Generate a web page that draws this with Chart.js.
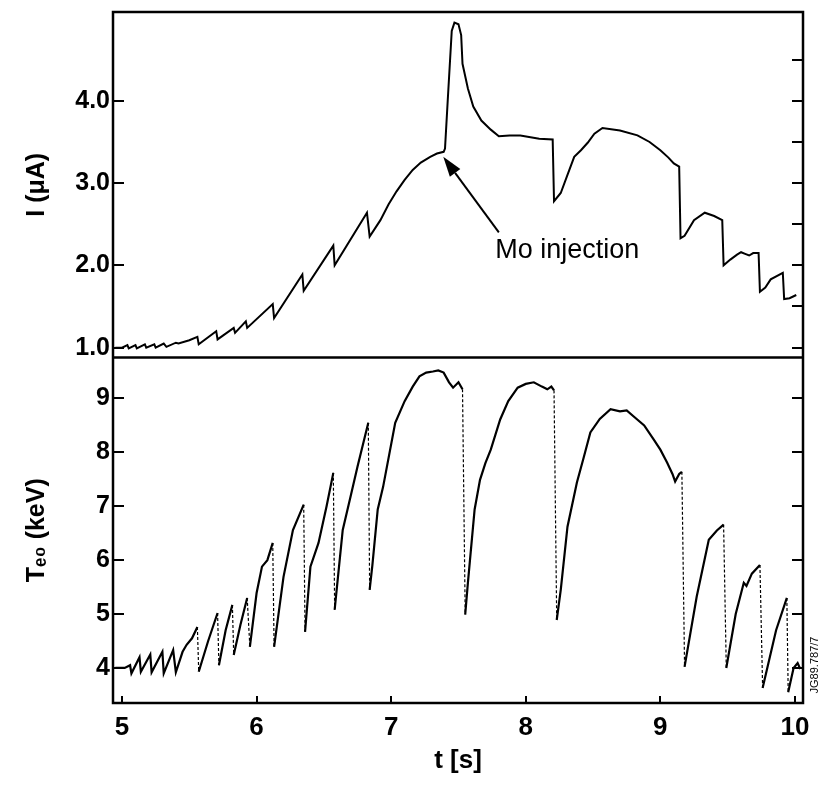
<!DOCTYPE html>
<html>
<head>
<meta charset="utf-8">
<script src="https://cdn.jsdelivr.net/npm/chart.js@4.4.1/dist/chart.umd.min.js"></script>
<style>
  html, body { margin: 0; padding: 0; background: #fff; }
  canvas { display: block; }
</style>
</head>
<body>
<canvas id="chart" width="823" height="785"></canvas>
<script>
// ------------------------------------------------------------
// Data
// ------------------------------------------------------------
// Top panel: plasma current I (uA) against time t (s)
const TIME_I = [4.95, 5.00, 5.04, 5.05, 5.10, 5.11, 5.17, 5.18, 5.24, 5.25, 5.31, 5.33, 5.40, 5.42, 5.50,
  5.56, 5.57, 5.70, 5.71, 5.83, 5.84, 5.92, 5.93, 6.12, 6.13, 6.34, 6.35, 6.57, 6.58, 6.82, 6.84,
  6.92, 6.98, 7.04, 7.10, 7.16, 7.22, 7.29, 7.34, 7.39, 7.40, 7.42, 7.45, 7.47, 7.50, 7.52, 7.53,
  7.57, 7.61, 7.67, 7.74, 7.80, 7.88, 7.96, 8.10, 8.20, 8.21, 8.26, 8.31, 8.36, 8.41, 8.46, 8.51,
  8.57, 8.70, 8.83, 8.92, 9.00, 9.06, 9.10, 9.14, 9.15, 9.18, 9.25, 9.33, 9.40, 9.46, 9.47, 9.52,
  9.57, 9.60, 9.63, 9.66, 9.69, 9.73, 9.74, 9.78, 9.82, 9.91, 9.92, 9.96, 10.01];
const CURRENT = [1.00, 1.00, 1.03, 0.99, 1.03, 0.99, 1.04, 1.00, 1.04, 1.00, 1.05, 1.01, 1.06, 1.05, 1.09,
  1.13, 1.04, 1.20, 1.10, 1.24, 1.18, 1.32, 1.24, 1.53, 1.36, 1.89, 1.69, 2.24, 2.00, 2.64, 2.35,
  2.55, 2.74, 2.90, 3.04, 3.16, 3.25, 3.32, 3.36, 3.38, 3.42, 4.00, 4.85, 4.95, 4.93, 4.80, 4.45,
  4.15, 3.93, 3.76, 3.65, 3.57, 3.58, 3.58, 3.54, 3.53, 2.78, 2.88, 3.10, 3.32, 3.40, 3.49, 3.60,
  3.67, 3.64, 3.58, 3.50, 3.40, 3.31, 3.24, 3.20, 2.33, 2.36, 2.55, 2.64, 2.60, 2.55, 2.00, 2.07,
  2.13, 2.16, 2.14, 2.12, 2.15, 2.15, 1.68, 1.73, 1.83, 1.91, 1.59, 1.60, 1.64];

// Bottom panel: central electron temperature Te0 (keV) against time t (s)
const TIME_T = [4.95, 5.02, 5.06, 5.07, 5.13, 5.14, 5.21, 5.22, 5.30, 5.31, 5.38, 5.40, 5.45, 5.48, 5.52,
  5.56, 5.57, 5.64, 5.71, 5.72, 5.77, 5.82, 5.83, 5.88, 5.93, 5.95, 6.00, 6.04, 6.08, 6.12, 6.13,
  6.20, 6.27, 6.35, 6.36, 6.40, 6.46, 6.52, 6.57, 6.58, 6.64, 6.70, 6.75, 6.83, 6.84, 6.86, 6.90,
  6.94, 7.03, 7.10, 7.16, 7.21, 7.26, 7.31, 7.35, 7.39, 7.43, 7.46, 7.50, 7.53, 7.55, 7.57, 7.62,
  7.66, 7.70, 7.74, 7.81, 7.87, 7.94, 8.00, 8.06, 8.12, 8.16, 8.19, 8.21, 8.23, 8.26, 8.31, 8.38,
  8.43, 8.48, 8.55, 8.63, 8.70, 8.75, 8.80, 8.88, 8.95, 9.00, 9.05, 9.09, 9.11, 9.14, 9.16, 9.18,
  9.27, 9.36, 9.42, 9.47, 9.49, 9.56, 9.62, 9.64, 9.68, 9.74, 9.76, 9.86, 9.94, 9.95, 9.99, 10.02, 10.04];
const TEMP = [4.00, 4.00, 4.05, 3.90, 4.20, 3.93, 4.25, 3.92, 4.30, 3.90, 4.33, 3.92, 4.30, 4.43, 4.55,
  4.76, 3.93, 4.50, 5.02, 4.05, 4.70, 5.17, 4.24, 4.80, 5.30, 4.39, 5.39, 5.88, 6.00, 6.32, 4.39,
  5.69, 6.56, 7.03, 4.67, 5.88, 6.32, 7.00, 7.62, 5.08, 6.56, 7.20, 7.74, 8.55, 5.45, 5.90, 6.94,
  7.36, 8.55, 8.95, 9.22, 9.41, 9.48, 9.50, 9.52, 9.48, 9.30, 9.20, 9.30, 9.17, 4.99, 5.58, 6.94,
  7.49, 7.80, 8.05, 8.61, 8.95, 9.20, 9.27, 9.30, 9.22, 9.17, 9.22, 9.15, 4.89, 5.45, 6.62, 7.44,
  7.90, 8.37, 8.62, 8.80, 8.76, 8.78, 8.67, 8.50, 8.24, 8.05, 7.81, 7.60, 7.46, 7.60, 7.64, 4.02,
  5.32, 6.38, 6.55, 6.66, 4.00, 5.00, 5.58, 5.52, 5.75, 5.91, 3.63, 4.70, 5.30, 3.55, 4.00, 4.09, 3.98];

// Tick values
const TICKS_TIME = [5, 6, 7, 8, 9, 10];
const TICKS_I = [1.0, 1.5, 2.0, 2.5, 3.0, 3.5, 4.0, 4.5];
const TICKS_TE = [4, 5, 6, 7, 8, 9];

// Texts
const TITLE_TIME = 't [s]';
const TITLE_I = 'I (\u03BCA)';
const TITLE_TE = 'T\u2091\u2080 (keV)';
const LABEL_MO = 'Mo injection';
const FIG_ID = 'JG89.787/7';

const FONT = "'Liberation Sans', Arial, sans-serif";
const INK = '#000';

// fixed tick list for an axis
function setTicks(values) {
    return (scale) => { scale.ticks = values.map(v => ({ value: v })); };
}

// no extra room for tick labels sticking out past the axis ends
function noOverflow(s) {
    s.paddingTop = 0; s.paddingBottom = 0; s.paddingLeft = 0; s.paddingRight = 0;
}

// Y axis of one panel (left with labels, right with ticks only)
function yAxis(position, min, max, ticks, title) {
    const left = position === 'left';
    return {
        type: 'linear', position, stack: left ? 'L' : 'R', stackWeight: 1,
        min, max,
        afterBuildTicks: setTicks(ticks),
        afterFit: (s) => { s.width = left ? 95 : 0; noOverflow(s); },
        border: { display: false },
        grid: { drawOnChartArea: false, tickLength: -11, color: INK, lineWidth: 2 },
        ticks: {
            display: left, padding: 14, color: INK,
            font: { family: FONT, size: 25, weight: 'bold' },
            callback: (v) => (Math.abs(v - Math.round(v)) < 1e-9 ? (ticks === TICKS_I ? v.toFixed(1) : String(v)) : '')
        },
        title: {
            display: left && !!title, text: title, color: INK,
            font: { family: FONT, size: 25, weight: 'bold' }, padding: { top: 4, bottom: 0 }
        }
    };
}

// Frame, panel divider, "Mo injection" arrow and the figure id
const framePlugin = {
    id: 'frame',
    afterDraw(chart) {
        const { ctx, chartArea: a, scales } = chart;
        const x = scales.x, yI = scales.yI;
        ctx.save();
        ctx.strokeStyle = INK;
        ctx.fillStyle = INK;
        ctx.lineWidth = 2.5;
        ctx.strokeRect(a.left, a.top, a.right - a.left, a.bottom - a.top);
        ctx.beginPath();
        ctx.moveTo(a.left, scales.yT.top);
        ctx.lineTo(a.right, scales.yT.top);
        ctx.stroke();

        // arrow pointing at the injection time
        const tx = x.getPixelForValue(7.80), ty = yI.getPixelForValue(2.40);
        const hx = x.getPixelForValue(7.387), hy = yI.getPixelForValue(3.32);
        const ang = Math.atan2(hy - ty, hx - tx);
        const len = 20, half = 6.5;
        const bx = hx - len * Math.cos(ang), by = hy - len * Math.sin(ang);
        ctx.lineWidth = 2;
        ctx.beginPath();
        ctx.moveTo(tx, ty);
        ctx.lineTo(bx, by);
        ctx.stroke();
        ctx.beginPath();
        ctx.moveTo(hx, hy);
        ctx.lineTo(bx + half * Math.sin(ang), by - half * Math.cos(ang));
        ctx.lineTo(bx - half * Math.sin(ang), by + half * Math.cos(ang));
        ctx.closePath();
        ctx.fill();

        ctx.font = `27px ${FONT}`;
        ctx.textAlign = 'left';
        ctx.textBaseline = 'alphabetic';
        ctx.fillText(LABEL_MO, x.getPixelForValue(7.773), yI.getPixelForValue(2.09));

        // figure id, vertical at the right edge
        ctx.translate(a.right + 12, 665);
        ctx.rotate(-Math.PI / 2);
        ctx.font = `11px ${FONT}`;
        ctx.textAlign = 'center';
        ctx.textBaseline = 'middle';
        ctx.fillText(FIG_ID, 0, 0);
        ctx.restore();
    }
};

// Drops of the sawtooth crashes are drawn dashed
const isCrash = (c) => c.p0.parsed.y - c.p1.parsed.y > 0.6;

new Chart(document.getElementById('chart'), {
    type: 'line',
    data: {
        datasets: [
            {
                label: 'I', yAxisID: 'yI',
                data: TIME_I.map((t, i) => ({ x: t, y: CURRENT[i] })),
                borderColor: INK, borderWidth: 2, pointRadius: 0, tension: 0
            },
            {
                label: 'Te0', yAxisID: 'yT',
                data: TIME_T.map((t, i) => ({ x: t, y: TEMP[i] })),
                borderColor: INK, borderWidth: 2.2, pointRadius: 0, tension: 0,
                segment: {
                    borderDash: (c) => (isCrash(c) ? [3, 2] : undefined),
                    borderWidth: (c) => (isCrash(c) ? 1.2 : undefined)
                }
            }
        ]
    },
    options: {
        responsive: false,
        animation: false,
        layout: { padding: { left: 18, right: 20, top: 12, bottom: 0 } },
        plugins: { legend: { display: false }, tooltip: { enabled: false } },
        scales: {
            x: {
                type: 'linear', min: 4.933, max: 10.06,
                afterBuildTicks: setTicks(TICKS_TIME),
                afterFit: (s) => { s.height = 82; noOverflow(s); },
                border: { display: false },
                grid: { drawOnChartArea: false, tickLength: -7, color: INK, lineWidth: 2 },
                ticks: { padding: 16, color: INK, maxRotation: 0, font: { family: FONT, size: 26, weight: 'bold' } },
                title: {
                    display: true, text: TITLE_TIME, color: INK,
                    font: { family: FONT, size: 26, weight: 'bold' }, padding: { top: 0, bottom: 9 }
                }
            },
            // left stack is laid out in reverse order: yI ends up on top
            yT: yAxis('left', 3.35, 9.76, TICKS_TE, TITLE_TE),
            yI: yAxis('left', 0.88, 5.08, TICKS_I, TITLE_I),
            yIr: yAxis('right', 0.88, 5.08, TICKS_I, ''),
            yTr: yAxis('right', 3.35, 9.76, TICKS_TE, '')
        }
    },
    plugins: [framePlugin]
});
</script>
</body>
</html>
